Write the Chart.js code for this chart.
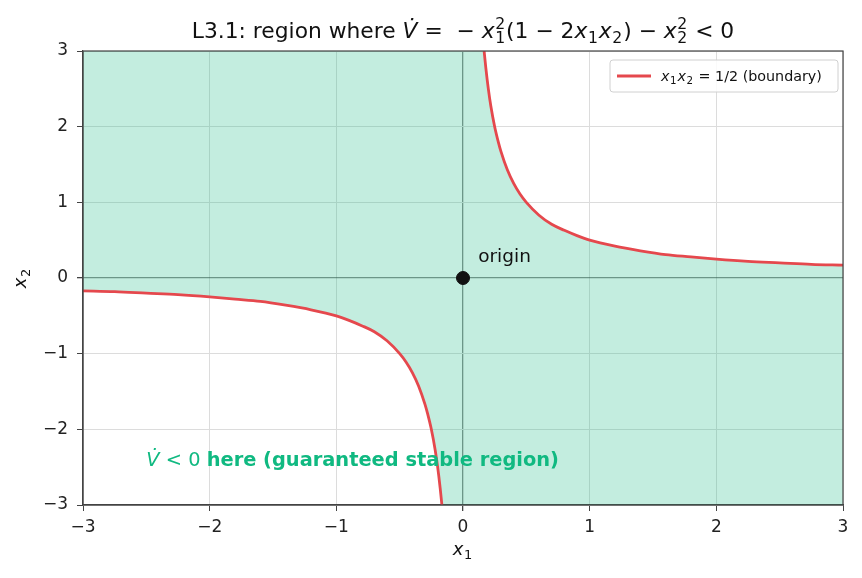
<!DOCTYPE html>
<html>
<head>
<meta charset="utf-8">
<script src="https://cdn.jsdelivr.net/npm/chart.js@4"></script>
<style>
  html, body { margin: 0; padding: 0; background: #fff; }
  #wrap { width: 862px; height: 578px; }
</style>
</head>
<body>
<div id="wrap"><canvas id="chart" width="862" height="578"></canvas></div>
<script>
// boundary x1*x2 = 1/2
const xRight = [0.1667, 0.18, 0.2, 0.22, 0.25, 0.28, 0.3, 0.35, 0.4, 0.45, 0.5, 0.6, 0.7, 0.8, 0.9, 1.0, 1.2, 1.4, 1.6, 1.8, 2.0, 2.25, 2.5, 2.75, 3.0];
const yRight = [3.0, 2.78, 2.5, 2.27, 2.0, 1.79, 1.67, 1.43, 1.25, 1.11, 1.0, 0.83, 0.71, 0.63, 0.56, 0.5, 0.42, 0.36, 0.31, 0.28, 0.25, 0.22, 0.2, 0.18, 0.17];
const xLeft = [-3.0, -2.75, -2.5, -2.25, -2.0, -1.8, -1.6, -1.4, -1.2, -1.0, -0.9, -0.8, -0.7, -0.6, -0.5, -0.45, -0.4, -0.35, -0.3, -0.28, -0.25, -0.22, -0.2, -0.18, -0.1667];
const yLeft = [-0.17, -0.18, -0.2, -0.22, -0.25, -0.28, -0.31, -0.36, -0.42, -0.5, -0.56, -0.63, -0.71, -0.83, -1.0, -1.11, -1.25, -1.43, -1.67, -1.79, -2.0, -2.27, -2.5, -2.78, -3.0];

const axisMin = -3;
const axisMax = 3;
const tickValues = [-3, -2, -1, 0, 1, 2, 3];
const tickLabels = ['−3', '−2', '−1', '0', '1', '2', '3'];

const originPoint = [{x: 0, y: 0}];
const originLabel = {x: 0.12, y: 0.28, text: 'origin'};
const regionLabel = {x: -2.5, y: -2.4};

const GREEN = '#10b981';
const RED = '#e5484d';
const FONT = '"DejaVu Sans", sans-serif';

// rich text pieces: t = text, it = italic, b = bold, sub / sup = small scripts
const titleParts = [
  {t: 'L3.1: region where '}, {t: 'V̇', it: true}, {t: ' =  − '},
  {t: 'x', it: true, sub: '1', sup: '2'}, {t: '(1 − 2'},
  {t: 'x', it: true, sub: '1'}, {t: 'x', it: true, sub: '2'}, {t: ') − '},
  {t: 'x', it: true, sub: '2', sup: '2'}, {t: ' < 0'}
];
const legendParts = [{t: 'x', it: true, sub: '1'}, {t: 'x', it: true, sub: '2'}, {t: ' = 1/2 (boundary)'}];
const regionParts = [{t: 'V̇', it: true}, {t: ' < 0 '}, {t: 'here (guaranteed stable region)', b: true}];
const xTitleParts = [{t: 'x', it: true, sub: '1'}];
const yTitleParts = [{t: 'x', it: true, sub: '2'}];

function fontFor(p, size) {
  return (p.it ? 'italic ' : '') + (p.b ? 'bold ' : '') + size + 'px ' + FONT;
}

function partWidth(ctx, p, size) {
  ctx.font = fontFor(p, size);
  let w = ctx.measureText(p.t).width;
  if (p.sub || p.sup) {
    ctx.font = (size * 0.72) + 'px ' + FONT;
    w += Math.max(p.sub ? ctx.measureText(p.sub).width : 0, p.sup ? ctx.measureText(p.sup).width : 0) + 1.5;
  }
  return w;
}

function drawRich(ctx, parts, x, y, size, align) {
  const total = parts.reduce((s, p) => s + partWidth(ctx, p, size), 0);
  let px = align === 'center' ? x - total / 2 : x;
  ctx.textAlign = 'left';
  ctx.textBaseline = 'alphabetic';
  parts.forEach(p => {
    ctx.font = fontFor(p, size);
    ctx.fillText(p.t, px, y);
    px += ctx.measureText(p.t).width;
    if (p.sub || p.sup) {
      ctx.font = (size * 0.72) + 'px ' + FONT;
      let w = 0;
      if (p.sub) { ctx.fillText(p.sub, px + 0.5, y + size * 0.22); w = ctx.measureText(p.sub).width; }
      if (p.sup) { ctx.fillText(p.sup, px + 0.5, y - size * 0.42); w = Math.max(w, ctx.measureText(p.sup).width); }
      px += w + 1.5;
    }
  });
}

// fill region x1*x2 < 1/2 : between top edge and bottom edge
const fillTop = xLeft.map(x => ({x: x, y: axisMax}))
  .concat([{x: 0, y: axisMax}])
  .concat(xRight.map((x, i) => ({x: x, y: yRight[i]})));
const fillBottom = xLeft.map((x, i) => ({x: x, y: yLeft[i]}))
  .concat([{x: 0, y: axisMin}])
  .concat(xRight.map(x => ({x: x, y: axisMin})));

const rightBranch = xRight.map((x, i) => ({x: x, y: yRight[i]}));
const leftBranch = xLeft.map((x, i) => ({x: x, y: yLeft[i]}));

const gridColor = ctx => ctx.tick && ctx.tick.value === 0 ? 'rgba(60,60,60,0.6)' : '#dcdcdc';
const gridWidth = ctx => ctx.tick && ctx.tick.value === 0 ? 1.3 : 1;

const extras = {
  id: 'extras',
  afterDatasetsDraw(chart) {
    const {ctx, chartArea: a, scales: {x, y}} = chart;
    ctx.save();
    // origin label
    ctx.fillStyle = '#111';
    ctx.font = '18.5px ' + FONT;
    ctx.textAlign = 'left';
    ctx.textBaseline = 'middle';
    ctx.fillText(originLabel.text, x.getPixelForValue(originLabel.x), y.getPixelForValue(originLabel.y));

    // region label
    ctx.fillStyle = GREEN;
    drawRich(ctx, regionParts, x.getPixelForValue(regionLabel.x), y.getPixelForValue(regionLabel.y) + 6, 19.4, 'left');

    // frame
    ctx.strokeStyle = '#444';
    ctx.lineWidth = 1.2;
    ctx.strokeRect(a.left, a.top, a.right - a.left, a.bottom - a.top);

    // legend
    const lx = 610, ly = 60, lw = 228, lh = 32;
    ctx.fillStyle = 'rgba(255,255,255,0.85)';
    ctx.strokeStyle = '#d0d0d0';
    ctx.lineWidth = 1;
    ctx.beginPath();
    ctx.roundRect(lx, ly, lw, lh, 3);
    ctx.fill();
    ctx.stroke();
    ctx.strokeStyle = RED;
    ctx.lineWidth = 3;
    ctx.beginPath();
    ctx.moveTo(lx + 7, ly + 16);
    ctx.lineTo(lx + 41, ly + 16);
    ctx.stroke();
    ctx.fillStyle = '#111';
    drawRich(ctx, legendParts, lx + 51, ly + 21, 14.3, 'left');

    // title and axis titles
    ctx.fillStyle = '#111';
    drawRich(ctx, titleParts, (a.left + a.right) / 2, 38, 21.8, 'center');
    drawRich(ctx, xTitleParts, (a.left + a.right) / 2, 555, 18, 'center');
    ctx.translate(26, (a.top + a.bottom) / 2);
    ctx.rotate(-Math.PI / 2);
    drawRich(ctx, yTitleParts, 0, 0, 18, 'center');
    ctx.restore();
  }
};

new Chart(document.getElementById('chart'), {
  type: 'scatter',
  data: {
    datasets: [
      {
        data: fillTop, showLine: true, pointRadius: 0, borderWidth: 0,
        borderColor: 'rgba(0,0,0,0)', backgroundColor: 'rgba(16,185,129,0.25)',
        fill: '+1', cubicInterpolationMode: 'monotone', order: 3
      },
      {
        data: fillBottom, showLine: true, pointRadius: 0, borderWidth: 0,
        borderColor: 'rgba(0,0,0,0)', fill: false, cubicInterpolationMode: 'monotone', order: 3
      },
      {
        data: rightBranch, showLine: true, pointRadius: 0, borderWidth: 2.8,
        borderColor: RED, fill: false, cubicInterpolationMode: 'monotone', order: 2
      },
      {
        data: leftBranch, showLine: true, pointRadius: 0, borderWidth: 2.8,
        borderColor: RED, fill: false, cubicInterpolationMode: 'monotone', order: 2
      },
      {
        data: originPoint, pointRadius: 6.5, backgroundColor: '#111', borderColor: '#111', order: 1
      }
    ]
  },
  options: {
    responsive: false,
    animation: false,
    layout: {padding: {top: 51, right: 19, bottom: 0, left: 0}},
    plugins: {legend: {display: false}, title: {display: false}, tooltip: {enabled: false}},
    scales: {
      x: {
        type: 'linear', min: axisMin, max: axisMax,
        afterFit: s => { s.height = 73; },
        afterBuildTicks: s => { s.ticks = tickValues.map(v => ({value: v})); },
        ticks: {
          callback: v => tickLabels[tickValues.indexOf(v)],
          font: {family: FONT, size: 17}, color: '#222', padding: 6, maxRotation: 0
        },
        grid: {color: gridColor, lineWidth: gridWidth, tickColor: '#444', tickLength: 6},
        border: {display: true, color: '#444', width: 1.2}
      },
      y: {
        type: 'linear', min: axisMin, max: axisMax,
        afterFit: s => { s.width = 83; },
        afterBuildTicks: s => { s.ticks = tickValues.map(v => ({value: v})); },
        ticks: {
          callback: v => tickLabels[tickValues.indexOf(v)],
          font: {family: FONT, size: 17}, color: '#222', padding: 9
        },
        grid: {color: gridColor, lineWidth: gridWidth, tickColor: '#444', tickLength: 6},
        border: {display: true, color: '#444', width: 1.2}
      }
    }
  },
  plugins: [extras]
});
</script>
</body>
</html>
